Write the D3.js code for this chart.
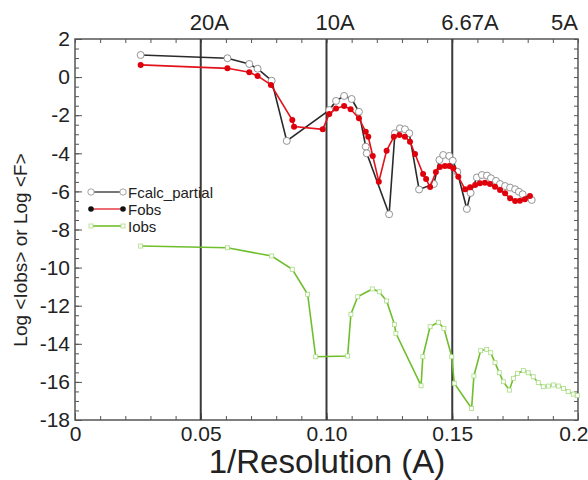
<!DOCTYPE html>
<html>
<head>
<meta charset="utf-8">
<script src="https://cdnjs.cloudflare.com/ajax/libs/d3/7.8.5/d3.min.js"></script>
<style>
  body { margin: 0; background: #fff; }
  text { font-family: "Liberation Sans", Arial, sans-serif; fill: #222; }
</style>
</head>
<body>
<div id="chart"></div>
<script>
// Fcalc_partial (black, open circles)
var fcalcX = [0.0261, 0.0606, 0.0693, 0.0726, 0.0782, 0.0842, 0.1011, 0.1038, 0.1070, 0.1100,
  0.1129, 0.1156, 0.1160, 0.1249, 0.1272, 0.1292, 0.1312, 0.1329, 0.1368, 0.1427,
  0.1449, 0.1464, 0.1488, 0.1502, 0.1520, 0.1558, 0.1573, 0.1598, 0.1618, 0.1638,
  0.1654, 0.1674, 0.1690, 0.1710, 0.1730, 0.1750, 0.1765, 0.1780, 0.1816]
var fcalcY = [1.16, 0.99, 0.69, 0.44, -0.19, -3.35, -1.73, -1.25, -0.99, -1.15,
  -1.82, -3.65, -4.0, -7.2, -2.95, -2.69, -2.74, -2.95, -5.9, -5.61,
  -4.35, -4.09, -4.14, -4.39, -4.97, -6.92, -6.08, -5.27, -5.14, -5.17,
  -5.31, -5.45, -5.61, -5.72, -5.8, -5.89, -6.02, -6.15, -6.45]

// Fobs (red, filled circles)
var fobsX = [0.0261, 0.0606, 0.0693, 0.0726, 0.0779, 0.0864, 0.0871, 0.0985, 0.1011, 0.1038,
  0.1070, 0.1096, 0.1129, 0.1156, 0.1166, 0.1184, 0.1208, 0.1239, 0.1268, 0.1290,
  0.1312, 0.1332, 0.1352, 0.1384, 0.1396, 0.1412, 0.1435, 0.1451, 0.1471, 0.1488,
  0.1504, 0.1524, 0.1551, 0.1571, 0.1591, 0.1610, 0.1630, 0.1650, 0.1670, 0.1690,
  0.1710, 0.1730, 0.1750, 0.1769, 0.1789, 0.1809]
var fobsY = [0.64, 0.46, 0.25, 0.06, -0.41, -2.25, -2.6, -2.74, -1.94, -1.65,
  -1.52, -1.69, -2.16, -2.87, -3.13, -4.14, -5.49, -3.86, -3.13, -3.04,
  -3.13, -3.39, -4.04, -5.09, -5.35, -5.77, -4.98, -4.72, -4.67, -4.67,
  -4.79, -5.23, -5.89, -5.78, -5.66, -5.57, -5.54, -5.61, -5.75, -5.93,
  -6.1, -6.36, -6.5, -6.49, -6.41, -6.24]

// Iobs (green, open squares)
var iobsX = [0.0261, 0.0606, 0.0782, 0.0864, 0.0925, 0.0957, 0.1084, 0.1097, 0.1124, 0.1182,
  0.1210, 0.1239, 0.1270, 0.1276, 0.1376, 0.1383, 0.1412, 0.1445, 0.1467, 0.1498,
  0.1508, 0.1577, 0.1586, 0.1613, 0.1637, 0.1653, 0.1670, 0.1687, 0.1703, 0.1727,
  0.1743, 0.1759, 0.1783, 0.1802, 0.1822, 0.1842, 0.1862, 0.1882, 0.1902, 0.1922,
  0.1942, 0.1961, 0.1981, 0.1997]
var iobsY = [-8.87, -8.96, -9.39, -10.09, -11.4, -14.68, -14.64, -12.45, -11.53, -11.12,
  -11.27, -11.75, -12.98, -13.45, -16.2, -14.68, -13.1, -12.87, -13.19, -14.68,
  -16.07, -17.39, -15.69, -14.36, -14.29, -14.47, -14.99, -15.52, -15.99, -16.43,
  -15.81, -15.55, -15.41, -15.52, -15.73, -16.04, -16.25, -16.22, -16.16, -16.22,
  -16.34, -16.51, -16.64, -16.72]

var xMajor = [0, 0.05, 0.1, 0.15, 0.2]
var xTickLabels = ["0", "0.05", "0.10", "0.15", "0.2"]
var yMajor = [-18, -16, -14, -12, -10, -8, -6, -4, -2, 0, 2]
var resLines = [0.05, 0.1, 0.15]
var topValues = [0.05, 0.1, 0.15, 0.2]
var topLabels = ["20A", "10A", "6.67A", "5A"]
var seriesNames = ["Fcalc_partial", "Fobs", "Iobs"]

var width = 588, height = 480
var svg = d3.select("#chart").append("svg")
    .attr("width", width).attr("height", height)

var x = d3.scaleLinear().domain([0, 0.2]).range([75, 578])
var y = d3.scaleLinear().domain([-18, 2]).range([420, 39])

var xMinor = d3.range(0, 0.2001, 0.01)
var yMinor = d3.range(-18, 2.001, 0.5)

function styleAxis(g) {
  g.select(".domain").remove()
  g.selectAll(".tick line").attr("stroke", "#555").attr("stroke-width", 1)
  g.selectAll("text").style("font-size", "21px").attr("fill", "#222")
}

// minor ticks
svg.append("g").attr("transform", "translate(0,420)")
  .call(d3.axisBottom(x).tickValues(xMinor).tickSize(-4).tickFormat(""))
  .call(styleAxis)
svg.append("g").attr("transform", "translate(0,39)")
  .call(d3.axisTop(x).tickValues(xMinor).tickSize(-4).tickFormat(""))
  .call(styleAxis)
svg.append("g").attr("transform", "translate(75,0)")
  .call(d3.axisLeft(y).tickValues(yMinor).tickSize(-4).tickFormat(""))
  .call(styleAxis)
svg.append("g").attr("transform", "translate(578,0)")
  .call(d3.axisRight(y).tickValues(yMinor).tickSize(-4).tickFormat(""))
  .call(styleAxis)

// major ticks with labels
var xAxisG = svg.append("g").attr("transform", "translate(0,420)")
  .call(d3.axisBottom(x).tickValues(xMajor).tickSize(-7).tickPadding(6)
    .tickFormat(function(d, i) { return xTickLabels[i] }))
  .call(styleAxis)
// last label sits against the right edge of the picture
xAxisG.selectAll(".tick text").filter(function(d) { return d == 0.2 })
  .attr("text-anchor", "end").attr("x", width - x(0.2))

svg.append("g").attr("transform", "translate(75,0)")
  .call(d3.axisLeft(y).tickValues(yMajor).tickSize(-7).tickPadding(5)
    .tickFormat(function(d) { return d }))
  .call(styleAxis)

// frame
svg.append("rect")
  .attr("x", x(0)).attr("y", y(2))
  .attr("width", x(0.2) - x(0)).attr("height", y(-18) - y(2))
  .attr("fill", "none").attr("stroke", "#555").attr("stroke-width", 1.5)

// resolution lines
svg.selectAll(".resline").data(resLines).enter().append("line")
  .attr("class", "resline")
  .attr("x1", d => x(d)).attr("x2", d => x(d))
  .attr("y1", y(2)).attr("y2", y(-18))
  .attr("stroke", "#3a3a3a").attr("stroke-width", 2)

svg.selectAll(".toplab").data(topValues).enter().append("text")
  .attr("class", "toplab")
  .attr("x", function(d, i) { return i == topValues.length - 1 ? x(d) : x(d) - 11 })
  .attr("y", 30)
  .attr("text-anchor", function(d, i) { return i == topValues.length - 1 ? "end" : "start" })
  .style("font-size", "22px")
  .text(function(d, i) { return topLabels[i] })

function pts(xs, ys) {
  return xs.map(function(v, i) { return [v, ys[i]] })
}
var line = d3.line().x(d => x(d[0])).y(d => y(d[1]))

// Iobs
var iobs = pts(iobsX, iobsY)
svg.append("path").datum(iobs).attr("d", line)
  .attr("fill", "none").attr("stroke", "#6fbe2c").attr("stroke-width", 1.6)
svg.selectAll(".iobs").data(iobs).enter().append("rect")
  .attr("class", "iobs")
  .attr("x", d => x(d[0]) - 2).attr("y", d => y(d[1]) - 2)
  .attr("width", 4).attr("height", 4)
  .attr("fill", "#fff").attr("stroke", "#a8dc80").attr("stroke-width", 0.8)

// Fcalc
var fcalc = pts(fcalcX, fcalcY)
svg.append("path").datum(fcalc).attr("d", line)
  .attr("fill", "none").attr("stroke", "#2a2a2a").attr("stroke-width", 1.6)
svg.selectAll(".fcalc").data(fcalc).enter().append("circle")
  .attr("class", "fcalc")
  .attr("cx", d => x(d[0])).attr("cy", d => y(d[1])).attr("r", 3.5)
  .attr("fill", "#fff").attr("stroke", "#888").attr("stroke-width", 0.9)

// Fobs
var fobs = pts(fobsX, fobsY)
svg.append("path").datum(fobs).attr("d", line)
  .attr("fill", "none").attr("stroke", "#e3121b").attr("stroke-width", 1.6)
svg.selectAll(".fobs").data(fobs).enter().append("circle")
  .attr("class", "fobs")
  .attr("cx", d => x(d[0])).attr("cy", d => y(d[1])).attr("r", 3)
  .attr("fill", "#e0000b")

// legend
var legend = svg.append("g").attr("transform", "translate(91,192)")
seriesNames.forEach(function(name, i) {
  var g = legend.append("g").attr("transform", "translate(0," + (i * 17) + ")")
  var col = ["#555", "#e84a50", "#6fbe2c"][i]
  g.append("line").attr("x1", 0).attr("x2", 32).attr("y1", 0).attr("y2", 0)
    .attr("stroke", col).attr("stroke-width", 1.6)
  ;[0, 32].forEach(function(px) {
    if (i == 0) {
      g.append("circle").attr("cx", px).attr("cy", 0).attr("r", 3.2)
        .attr("fill", "#fff").attr("stroke", "#999").attr("stroke-width", 0.9)
    } else if (i == 1) {
      g.append("circle").attr("cx", px).attr("cy", 0).attr("r", 2.8).attr("fill", "#111")
    } else {
      g.append("rect").attr("x", px - 2).attr("y", -2).attr("width", 4).attr("height", 4)
        .attr("fill", "#fff").attr("stroke", "#a8dc80").attr("stroke-width", 0.8)
    }
  })
  g.append("text").attr("x", 37).attr("y", 5.5).style("font-size", "15px").text(name)
})

// axis titles
svg.append("text")
  .attr("x", 327).attr("y", 473)
  .attr("text-anchor", "middle")
  .style("font-size", "33px")
  .text("1/Resolution (A)")

svg.append("text")
  .attr("transform", "translate(27,250) rotate(-90)")
  .attr("text-anchor", "middle")
  .style("font-size", "19px")
  .text("Log <Iobs> or Log <F>")
</script>
</body>
</html>
